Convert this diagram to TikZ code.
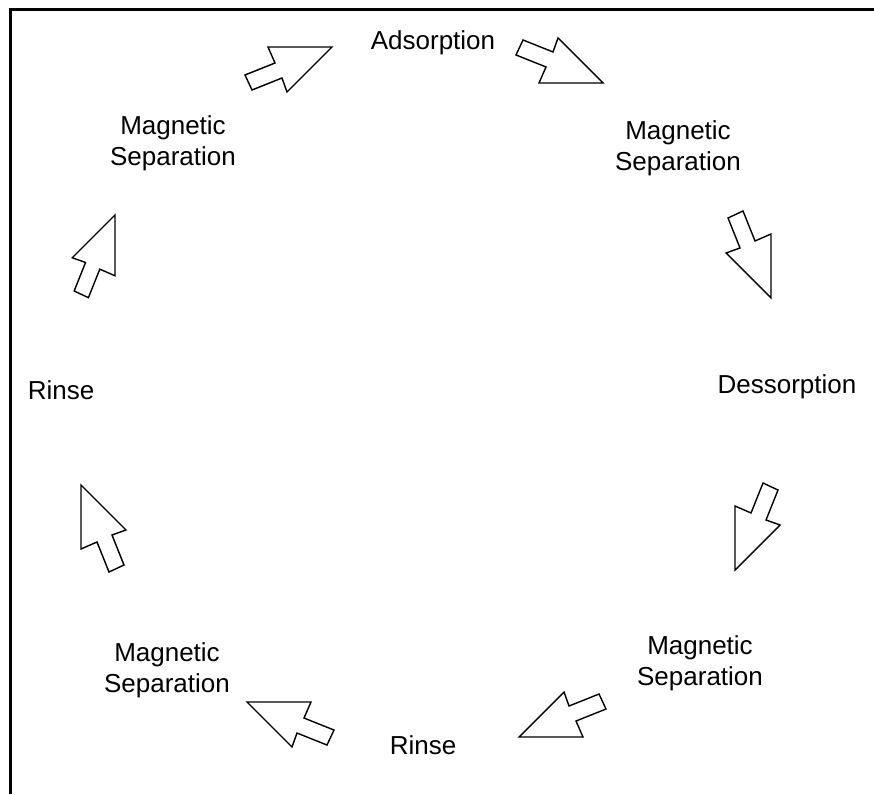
\documentclass[tikz,border=0pt]{standalone}
\usepackage{fontspec}
\setmainfont{Liberation Sans}
\tikzset{
  stage/.style={align=center, font=\fontsize{26}{31}\selectfont, inner sep=0pt},
  cursor line/.style={draw=black, line width=1.4pt, line join=miter, fill=white},
  cursor/.pic={
    \path[cursor line] (0,0) -- (-64,0) -- (-57,16) -- (-87,28) -- (-80,43)
      -- (-50,31) -- (-45,45) -- cycle;
  }
}
\begin{document}
\begin{tikzpicture}[x=1pt, y=-1pt]
  \useasboundingbox (0,0) rectangle (874,794);
  % frame, open at the right and bottom
  \draw[line width=3pt] (10.5,794) -- (10.5,9.7) -- (874,9.7);

  % steps of the cycle
  \node[stage] (ads) at (433,43) {Adsorption};
  \node[stage] (sep1) at (678,148) {Magnetic\\Separation};
  \node[stage] (des) at (787,387) {Dessorption};
  \node[stage] (sep2) at (700,663) {Magnetic\\Separation};
  \node[stage] (rinse1) at (423,745) {Rinse};
  \node[stage] (sep3) at (167,670) {Magnetic\\Separation};
  \node[stage] (rinse2) at (61,390) {Rinse};
  \node[stage] (sep4) at (173,143) {Magnetic\\Separation};

  % cursor arrows between the steps
  \pic at (332,47) {cursor};
  \pic[yscale=-1] at (603,83) {cursor};
  \pic[rotate=-90] at (771,298) {cursor};
  \pic[yscale=-1, rotate=90] at (735,570) {cursor};
  \pic[rotate=180] at (519,737) {cursor};
  \pic[xscale=-1] at (247,702) {cursor};
  \pic[rotate=90] at (81,485) {cursor};
  \pic[yscale=-1, rotate=-90, scale=0.95] at (115,215) {cursor};
\end{tikzpicture}
\end{document}
